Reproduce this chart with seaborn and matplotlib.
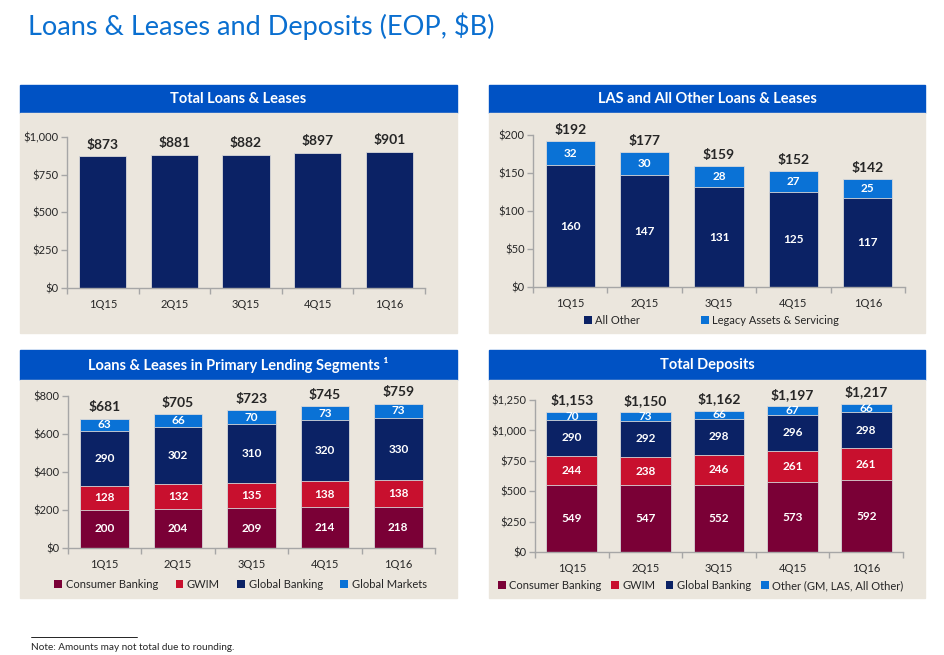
import numpy as np
import pandas as pd
import matplotlib
matplotlib.use('Agg')
import matplotlib.pyplot as plt
from matplotlib.patches import Rectangle, Patch
import matplotlib.ticker as mticker
import seaborn as sns

# ---- data ----
QUARTERS = ['1Q15', '2Q15', '3Q15', '4Q15', '1Q16']

total_loans = [873, 881, 882, 897, 901]

las_all_other = [160, 147, 131, 125, 117]
las_legacy = [32, 30, 28, 27, 25]
las_totals = [192, 177, 159, 152, 142]

pl_consumer = [200, 204, 209, 214, 218]
pl_gwim = [128, 132, 135, 138, 138]
pl_global_banking = [290, 302, 310, 320, 330]
pl_global_markets = [63, 66, 70, 73, 73]
pl_totals = [681, 705, 723, 745, 759]

dep_consumer = [549, 547, 552, 573, 592]
dep_gwim = [244, 238, 246, 261, 261]
dep_global_banking = [290, 292, 298, 296, 298]
dep_other = [70, 73, 66, 67, 66]
dep_totals = [1153, 1150, 1162, 1197, 1217]

# ---- style ----
W, H = 945, 655
FONT = ['Lato', 'DejaVu Sans']
HEADER_BLUE = '#0052C4'
BEIGE = '#EBE6DD'
NAVY = '#0B2265'
LIGHT_BLUE = '#0A72D6'
DARK_RED = '#7A0036'
RED = '#C8102E'
TITLE_BLUE = '#0A6FD0'
AXIS_GRAY = '#A6A6A6'
TEXT = '#262626'

sns.set_theme(style='white')
plt.rcParams['font.family'] = FONT

fig = plt.figure(figsize=(W / 100, H / 100), dpi=100)
fig.patch.set_facecolor('white')


def px_rect(x0, y0, x1, y1, color):
    # rectangle given in pixel coords from the top-left corner
    fig.patches.append(Rectangle((x0 / W, 1 - y1 / H), (x1 - x0) / W, (y1 - y0) / H,
                                 transform=fig.transFigure, color=color, zorder=-5))


def panel(x0, x1, y_head, y_body, y_end, title):
    px_rect(x0, y_head, x1, y_body, HEADER_BLUE)
    px_rect(x0, y_body, x1, y_end, BEIGE)
    fig.text((x0 + x1) / 2 / W, 1 - (y_head + y_body) / 2 / H, title, ha='center', va='center',
             color='white', fontsize=10.5, fontweight='bold', family=FONT)


def make_axes(left, right, y0, ytop, ymax, step):
    ax = fig.add_axes([left / W, 1 - y0 / H, (right - left) / W, (y0 - ytop) / H])
    ax.set_facecolor('none')
    ax.set_xlim(-0.5, 4.5)
    ax.set_ylim(0, ymax)
    ax.yaxis.set_major_locator(mticker.MultipleLocator(step))
    ax.yaxis.set_major_formatter(mticker.FuncFormatter(lambda v, _: f'${v:,.0f}'))
    for s in ['top', 'right']:
        ax.spines[s].set_visible(False)
    for s in ['left', 'bottom']:
        ax.spines[s].set_color(AXIS_GRAY)
        ax.spines[s].set_linewidth(1)
    return ax


def finish_axes(ax):
    ax.set_xlim(-0.5, 4.5)
    ax.set_xticks(range(5))
    ax.set_xticklabels(QUARTERS)
    ax.set_xticks(np.arange(-0.5, 5, 1), minor=True)
    ax.tick_params(axis='x', which='major', length=0, pad=8, labelsize=8, labelcolor=TEXT)
    ax.tick_params(axis='x', which='minor', length=4, direction='out', color=AXIS_GRAY, width=1, bottom=True)
    ax.tick_params(axis='y', length=4, direction='out', color=AXIS_GRAY, width=1, left=True,
                   labelsize=8, labelcolor=TEXT, pad=2)
    ax.set_xlabel('')
    ax.set_ylabel('')


def stacked(ax, layers, colors, width):
    df = pd.DataFrame({'Quarter': QUARTERS})
    cum = np.zeros(5)
    cums = []
    for vals in layers:
        cum = cum + np.array(vals)
        cums.append(cum.copy())
    # draw from the tallest cumulative down so lower layers sit in front
    for c, col in reversed(list(zip(cums, colors))):
        df['v'] = c
        sns.barplot(data=df, x='Quarter', y='v', color=col, width=width, saturation=1,
                    edgecolor='#D9D9D9', linewidth=0.6, ax=ax)
    # segment labels
    bottoms = np.zeros(5)
    for vals in layers:
        for i, v in enumerate(vals):
            ax.text(i, bottoms[i] + v / 2, f'{v}', ha='center', va='center', color='white',
                    fontsize=8.5, fontweight='bold', family=FONT)
        bottoms = bottoms + np.array(vals)


def totals(ax, vals, tops):
    for i, (v, t) in enumerate(zip(vals, tops)):
        ax.annotate(f'${v:,}', (i, t), xytext=(0, 4), textcoords='offset points', ha='center',
                    va='bottom', fontsize=10, fontweight='bold', color=TEXT, family=FONT,
                    annotation_clip=False)


def legend(ax, labels, colors, y, x=0.5, spacing=1.2):
    handles = [Patch(facecolor=c, edgecolor='none') for c in colors]
    ax.legend(handles, labels, loc='center', bbox_to_anchor=(x, y), ncol=len(labels), frameon=False,
              handlelength=0.7, handleheight=0.7, handletextpad=0.3, columnspacing=spacing,
              prop={'family': FONT, 'size': 8}, labelcolor=TEXT, borderaxespad=0)


# ---- title and footnote ----
fig.text(28 / W, 1 - 26 / H, 'Loans & Leases and Deposits (EOP, $B)', ha='left', va='center',
         color=TITLE_BLUE, fontsize=19.5, family=FONT)
fig.lines.append(plt.Line2D([31 / W, 137 / W], [1 - 637 / H, 1 - 637 / H], transform=fig.transFigure,
                            color='black', linewidth=0.6))
fig.text(31 / W, 1 - 647 / H, 'Note: Amounts may not total due to rounding.', ha='left', va='center',
         color=TEXT, fontsize=7.2, family=FONT)

# ---- panel backgrounds ----
panel(20, 457, 85, 113, 333, 'Total Loans & Leases')
panel(489, 925, 85, 113, 333, 'LAS and All Other Loans & Leases')
panel(20, 457, 350, 380, 598, 'Loans & Leases in Primary Lending Segments ¹')
panel(489, 925, 350, 380, 598, 'Total Deposits')

# ---- Total Loans & Leases ----
ax1 = make_axes(67, 425, 288, 137, 1000, 250)
df1 = pd.DataFrame({'Quarter': QUARTERS, 'Total': total_loans})
sns.barplot(data=df1, x='Quarter', y='Total', color=NAVY, width=0.66, saturation=1,
            edgecolor='#D9D9D9', linewidth=0.6, ax=ax1)
totals(ax1, total_loans, total_loans)
finish_axes(ax1)

# ---- LAS and All Other ----
ax2 = make_axes(533, 905, 287, 135, 200, 50)
stacked(ax2, [las_all_other, las_legacy], [NAVY, LIGHT_BLUE], 0.66)
totals(ax2, las_totals, np.array(las_all_other) + np.array(las_legacy))
finish_axes(ax2)
legend(ax2, ['All Other', 'Legacy Assets & Servicing'], [NAVY, LIGHT_BLUE], -0.22, 0.48, 5.5)

# ---- Primary Lending Segments ----
ax3 = make_axes(68, 435, 548, 396, 800, 200)
stacked(ax3, [pl_consumer, pl_gwim, pl_global_banking, pl_global_markets],
        [DARK_RED, RED, NAVY, LIGHT_BLUE], 0.66)
pl_tops = np.sum([pl_consumer, pl_gwim, pl_global_banking, pl_global_markets], axis=0)
totals(ax3, pl_totals, pl_tops)
finish_axes(ax3)
legend(ax3, ['Consumer Banking', 'GWIM', 'Global Banking', 'Global Markets'],
       [DARK_RED, RED, NAVY, LIGHT_BLUE], -0.24, 0.47, 1.6)

# ---- Total Deposits ----
ax4 = make_axes(535, 903, 552, 400, 1250, 250)
stacked(ax4, [dep_consumer, dep_gwim, dep_global_banking, dep_other],
        [DARK_RED, RED, NAVY, LIGHT_BLUE], 0.69)
dep_tops = np.sum([dep_consumer, dep_gwim, dep_global_banking, dep_other], axis=0)
totals(ax4, dep_totals, dep_tops)
finish_axes(ax4)
legend(ax4, ['Consumer Banking', 'GWIM', 'Global Banking', 'Other (GM, LAS, All Other)'],
       [DARK_RED, RED, NAVY, LIGHT_BLUE], -0.22, 0.45, 0.9)

fig.savefig('out.png', dpi=100)
